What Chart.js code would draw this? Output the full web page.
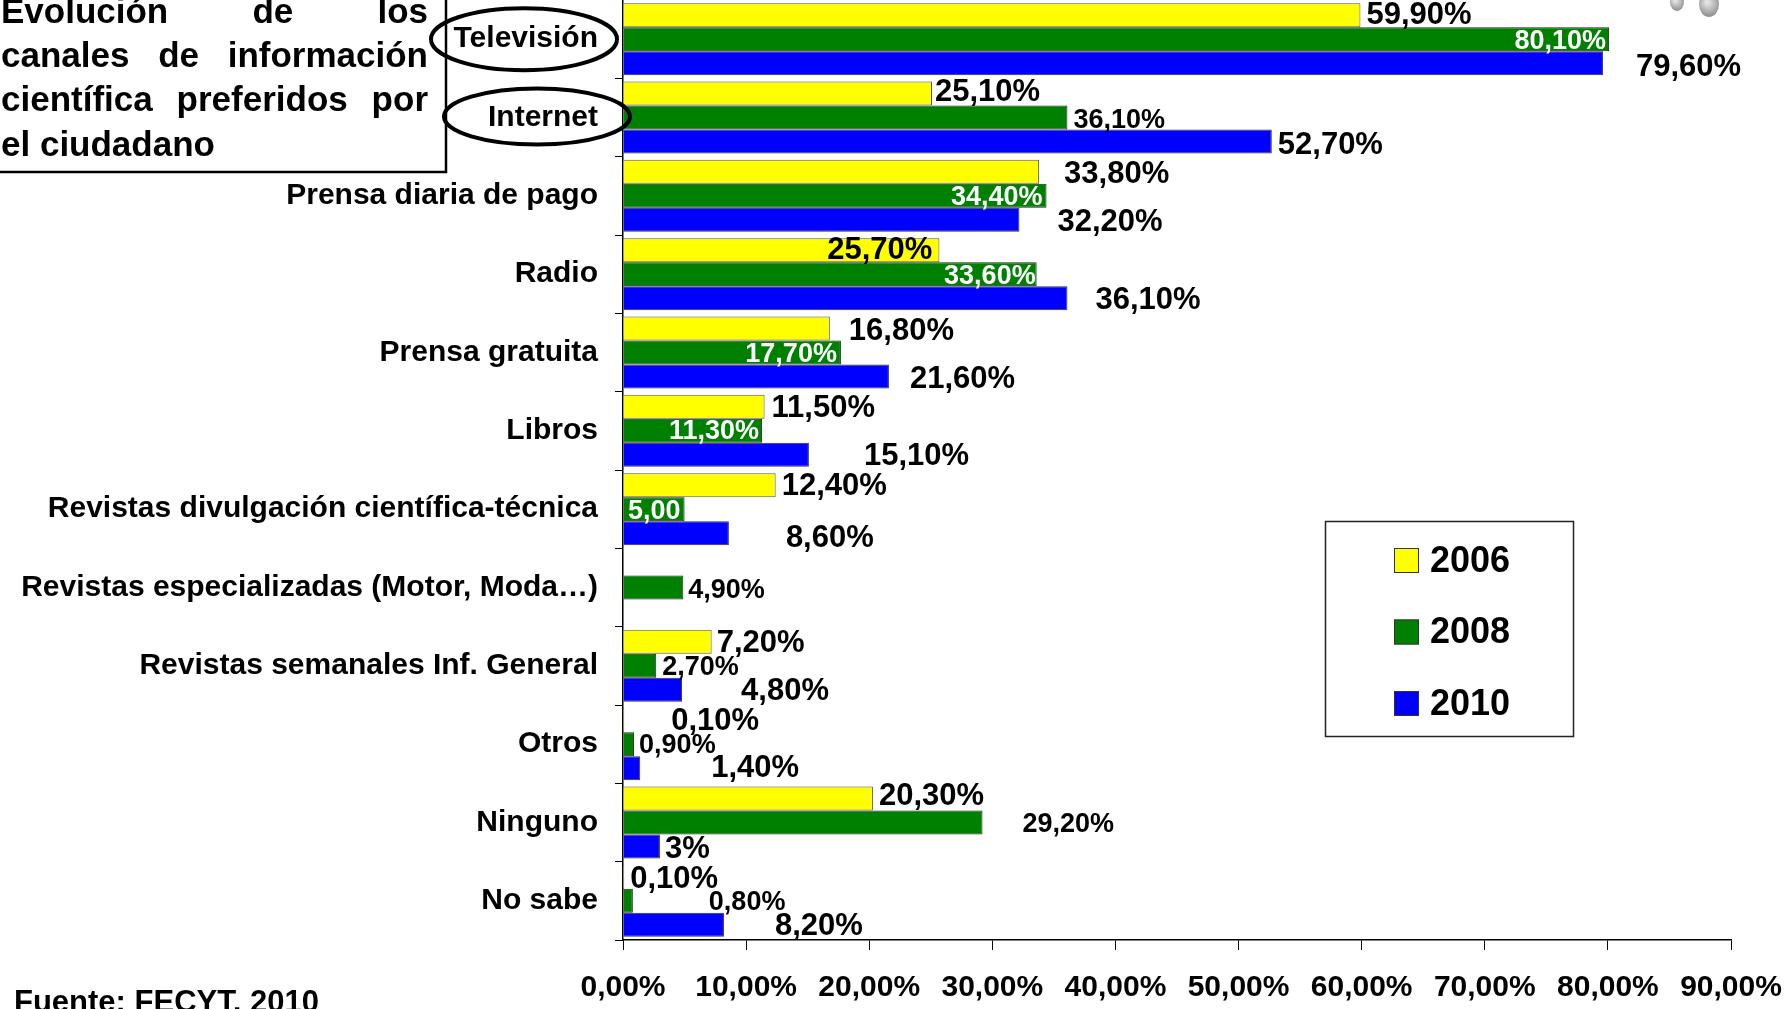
<!DOCTYPE html>
<html>
<head>
<meta charset="utf-8">
<script src="https://cdn.jsdelivr.net/npm/chart.js@4.4.1/dist/chart.umd.min.js"></script>
<style>
  html, body { margin: 0; padding: 0; background: #fff; }
  #wrap { position: relative; width: 1787px; height: 1009px; }
</style>
</head>
<body>
<div id="wrap"><canvas id="canalesChart"></canvas></div>
<script>
const categories = ['Televisión', 'Internet', 'Prensa diaria de pago', 'Radio', 'Prensa gratuita', 'Libros',
  'Revistas divulgación científica-técnica', 'Revistas especializadas (Motor, Moda…)',
  'Revistas semanales Inf. General', 'Otros', 'Ninguno', 'No sabe'];

const values2006 = [59.9, 25.1, 33.8, 25.7, 16.8, 11.5, 12.4, null, 7.2, 0.1, 20.3, 0.1];
const values2008 = [80.1, 36.1, 34.4, 33.6, 17.7, 11.3, 5.0, 4.9, 2.7, 0.9, 29.2, 0.8];
const values2010 = [79.6, 52.7, 32.2, 36.1, 21.6, 15.1, 8.6, null, 4.8, 1.4, 3, 8.2];

const labels2006 = ['59,90%', '25,10%', '33,80%', '25,70%', '16,80%', '11,50%', '12,40%', '', '7,20%', '0,10%', '20,30%', '0,10%'];
const labels2008 = ['80,10%', '36,10%', '34,40%', '33,60%', '17,70%', '11,30%', '5,00', '4,90%', '2,70%', '0,90%', '29,20%', '0,80%'];
const labels2010 = ['79,60%', '52,70%', '32,20%', '36,10%', '21,60%', '15,10%', '8,60%', '', '4,80%', '1,40%', '3%', '8,20%'];

const xTickLabels = ['0,00%', '10,00%', '20,00%', '30,00%', '40,00%', '50,00%', '60,00%', '70,00%', '80,00%', '90,00%'];

// where each value label sits: [dx, dy] from the bar end; negative dx = right aligned inside the bar
const offsets2006 = [[6, -2], [3, -3], [25, 1], [-7, -2], [19, 1], [7, 0], [6, -1], [0, 0], [5, 0], [47, -1], [6, -4], [6, 1]];
const offsets2008 = [[-3, 0], [6, 1], [-4, 0], [-1, 0], [-4, 0], [-3, -1], [-4, 0], [5, 1], [6, 0], [5, -1], [40, 0], [76, 0]];
const offsets2010 = [[33, 2], [6, 2], [38, 1], [28, 0], [21, 1], [55, 0], [57, 3], [0, 0], [59, 0], [71, -2], [5, 1], [51, 0]];
const white2008 = [1, 0, 1, 1, 1, 1, 1, 0, 0, 0, 0, 0];

const FONT = '"Liberation Sans", Arial, Helvetica, sans-serif';

// value labels next to / inside the bars
const barLabels = {
  id: 'barLabels',
  afterDatasetsDraw(chart) {
    const ctx = chart.ctx;
    chart.data.datasets.forEach((ds, di) => {
      const meta = chart.getDatasetMeta(di);
      meta.data.forEach((bar, i) => {
        const txt = ds.valueLabels[i];
        if (ds.data[i] == null || !txt) return;
        const [dx, dy] = ds.labelOffsets[i];
        ctx.save();
        ctx.font = 'bold ' + ds.labelSize + 'px ' + FONT;
        ctx.fillStyle = ds.whiteLabels && ds.whiteLabels[i] ? '#fff' : '#000';
        ctx.textBaseline = 'middle';
        ctx.textAlign = dx < 0 ? 'right' : 'left';
        ctx.fillText(txt, bar.x + dx, bar.y + dy + 2);
        ctx.restore();
      });
    });
  }
};

// boxed legend on the right
const boxLegend = {
  id: 'boxLegend',
  afterDraw(chart) {
    const ctx = chart.ctx;
    ctx.save();
    ctx.strokeStyle = '#222';
    ctx.lineWidth = 1.5;
    ctx.strokeRect(1325.5, 521.5, 248, 215);
    chart.data.datasets.forEach((ds, i) => {
      const cy = 560 + i * 71.5;
      ctx.fillStyle = ds.backgroundColor;
      ctx.fillRect(1394, cy - 12, 25, 25);
      ctx.strokeStyle = '#333';
      ctx.lineWidth = 1;
      ctx.strokeRect(1394.5, cy - 11.5, 24, 24);
      ctx.fillStyle = '#000';
      ctx.font = 'bold 36px ' + FONT;
      ctx.textBaseline = 'middle';
      ctx.textAlign = 'left';
      ctx.fillText(ds.label, 1430, cy + 2);
    });
    ctx.restore();
  }
};

function drawJustified(ctx, text, x, y, width) {
  const words = text.split(' ');
  const total = words.reduce((s, w) => s + ctx.measureText(w).width, 0);
  const gap = (width - total) / (words.length - 1);
  let cx = x;
  words.forEach(w => {
    ctx.fillText(w, cx, y);
    cx += ctx.measureText(w).width + gap;
  });
}

// title box, circled labels, source note and the clip-art bits
const extras = {
  id: 'extras',
  afterDraw(chart) {
    const ctx = chart.ctx;
    const yScale = chart.scales.y;
    ctx.save();

    // title box
    ctx.fillStyle = '#fff';
    ctx.fillRect(-5, -5, 451, 177);
    ctx.strokeStyle = '#000';
    ctx.lineWidth = 2.5;
    ctx.strokeRect(-5, -5, 451, 177);
    ctx.fillStyle = '#000';
    ctx.font = 'bold 35px ' + FONT;
    ctx.textBaseline = 'alphabetic';
    ctx.textAlign = 'left';
    drawJustified(ctx, 'Evolución de los', 1, 23, 427);
    drawJustified(ctx, 'canales de información', 1, 67, 427);
    drawJustified(ctx, 'científica preferidos por', 1, 111, 427);
    ctx.fillText('el ciudadano', 1, 156);

    // ellipses round Televisión and Internet
    ctx.lineWidth = 4;
    ctx.beginPath();
    ctx.ellipse(524, yScale.getPixelForValue(0), 93, 31, 0, 0, Math.PI * 2);
    ctx.stroke();
    ctx.beginPath();
    ctx.ellipse(537, yScale.getPixelForValue(1) - 1, 93, 28, 0, 0, Math.PI * 2);
    ctx.stroke();

    // source
    ctx.font = 'bold 31px ' + FONT;
    ctx.fillText('Fuente: FECYT, 2010', 14, 1012);

    // feet of the clip-art figure, cut by the top edge
    [[1677, 2, 7, 9], [1709, 4, 10, 13]].forEach(([x, y, rx, ry]) => {
      const g = ctx.createRadialGradient(x - 2, y - 2, 1, x, y, ry);
      g.addColorStop(0, '#e6e6e6');
      g.addColorStop(1, '#8c8c8c');
      ctx.fillStyle = g;
      ctx.beginPath();
      ctx.ellipse(x, y, rx, ry, 0, 0, Math.PI * 2);
      ctx.fill();
    });
    ctx.restore();
  }
};

const ctx = document.getElementById('canalesChart').getContext('2d');
new Chart(ctx, {
  type: 'bar',
  data: {
    labels: categories,
    datasets: [
      {
        label: '2006', data: values2006, backgroundColor: '#ffff00', borderColor: '#555', borderWidth: 1,
        valueLabels: labels2006, labelOffsets: offsets2006, labelSize: 31
      },
      {
        label: '2008', data: values2008, backgroundColor: '#008000', borderColor: '#222', borderWidth: 1,
        valueLabels: labels2008, labelOffsets: offsets2008, labelSize: 27, whiteLabels: white2008
      },
      {
        label: '2010', data: values2010, backgroundColor: '#0000ff', borderColor: '#333', borderWidth: 1,
        valueLabels: labels2010, labelOffsets: offsets2010, labelSize: 31
      }
    ]
  },
  options: {
    indexAxis: 'y',
    responsive: true,
    maintainAspectRatio: false,
    animation: false,
    layout: { padding: { top: 0, right: 56, bottom: 0, left: 0 } },
    datasets: { bar: { categoryPercentage: 0.92, barPercentage: 1 } },
    plugins: { legend: { display: false }, tooltip: { enabled: false } },
    scales: {
      x: {
        min: 0,
        max: 90,
        ticks: {
          stepSize: 10,
          autoSkip: false,
          maxRotation: 0,
          padding: 20,
          color: '#000',
          font: { family: FONT, size: 30, weight: 'bold' },
          callback: (v) => xTickLabels[Math.round(v / 10)]
        },
        grid: { drawOnChartArea: false, drawTicks: true, tickLength: 10, color: '#000' },
        border: { color: '#000', width: 1.5 },
        afterFit(s) { s.height = 69; s.paddingLeft = 0; s.paddingRight = 0; }
      },
      y: {
        ticks: {
          autoSkip: false,
          padding: 17,
          color: '#000',
          font: { family: FONT, size: 30, weight: 'bold' }
        },
        grid: { drawOnChartArea: false, tickLength: 8, color: '#000', offset: true },
        border: { color: '#000', width: 1.5 },
        afterFit(s) { s.width = 623; s.paddingTop = 0; s.paddingBottom = 0; }
      }
    }
  },
  plugins: [barLabels, boxLegend, extras]
});
</script>
</body>
</html>
